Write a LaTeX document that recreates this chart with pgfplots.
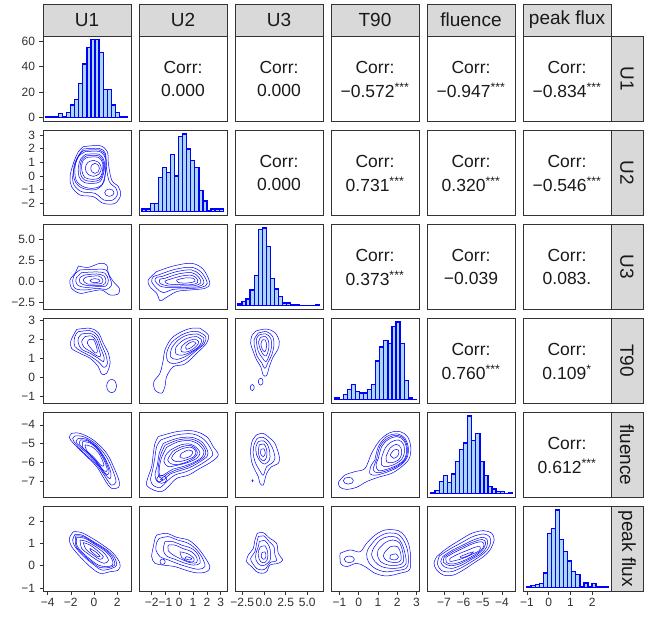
\documentclass[border=0pt]{standalone}
\usepackage{pgfplots}
\pgfplotsset{compat=1.18}
\usepackage{fontspec}
\setmainfont{Liberation Sans}
\definecolor{histfill}{HTML}{ADD8E6}
\definecolor{stripgray}{HTML}{D9D9D9}
\definecolor{bord}{HTML}{333333}
\definecolor{ticktxt}{HTML}{303030}
\pgfplotsset{
 panel/.style={scale only axis, width=88pt, height=85.5pt, anchor=north west,
   axis line style={draw=bord, line width=0.8pt}, xtick=\empty, ytick=\empty,
   tick align=outside, major tick length=3.5pt, tick style={draw=bord, line width=0.6pt},
   xtick pos=bottom, ytick pos=left,
   tick label style={font=\fontsize{12}{13}\selectfont, text=ticktxt},
   yticklabel style={xshift=-1pt}},
 cont/.style={draw=blue, line width=0.5pt, smooth, tension=0.55, mark=none},
 hist/.style={ybar interval, fill=histfill, draw=blue, line width=1.3pt, mark=none},
}
\tikzset{corrfont/.style={font=\fontsize{17.5}{20}\selectfont, text=black!90, inner sep=0pt},
  stripfont/.style={font=\fontsize{19}{21}\selectfont, text=black!90}}
\newcommand\rng[1]{\addplot[cont] coordinates {#1};}
\newcommand\corr[1]{\node[corrfont] at (rel axis cs:0.5,0.635) {Corr:};\node[corrfont] at (rel axis cs:0.5,0.365) {#1};}
\newcommand\st{\textsuperscript{***}}
\begin{document}
\begin{tikzpicture}[x=1pt,y=1pt]
\path[use as bounding box] (0,0) rectangle (648,616);
% ---------- strips ----------
\foreach \xl/\lab in {43/U1,139/U2,235/U3,331/T90,427/fluence,523/peak flux}{
  \draw[fill=stripgray, draw=bord, line width=0.8pt] (\xl,580) rectangle (\xl+88,612);
  \node[stripfont] at (\xl+44,596) {\lab};
}
\foreach \yt/\lab in {580/U1,486/U2,392/U3,298/T90,204/fluence,110/peak flux}{
  \draw[fill=stripgray, draw=bord, line width=0.8pt] (611,\yt-85.5) rectangle (643,\yt);
  \node[stripfont, rotate=-90] at (627,\yt-42.75) {\lab};
}
% ================= ROW 1 =================
\begin{axis}[panel, at={(43pt,580pt)}, xmin=-4.40, xmax=3.19, ymin=-3.0, ymax=63.9,
  ytick={0,20,40,60}, yticklabels={0,20,40,60}]
\addplot[hist] coordinates {(-4.140,1)(-3.788,1)(-3.435,1)(-3.083,3)(-2.730,1)(-2.378,4)(-2.025,10)(-1.673,14)(-1.320,27)(-0.968,42)(-0.615,55)(-0.263,61)(0.090,61)(0.443,51)(0.795,22)(1.148,22)(1.500,10)(1.853,4)(2.205,1)(2.558,1)(2.910,0)};
\end{axis}
\begin{axis}[panel, at={(139pt,580pt)}, xmin=0,xmax=1,ymin=0,ymax=1]\corr{0.000}\end{axis}
\begin{axis}[panel, at={(235pt,580pt)}, xmin=0,xmax=1,ymin=0,ymax=1]\corr{0.000}\end{axis}
\begin{axis}[panel, at={(331pt,580pt)}, xmin=0,xmax=1,ymin=0,ymax=1]\corr{−0.572\st}\end{axis}
\begin{axis}[panel, at={(427pt,580pt)}, xmin=0,xmax=1,ymin=0,ymax=1]\corr{−0.947\st}\end{axis}
\begin{axis}[panel, at={(523pt,580pt)}, xmin=0,xmax=1,ymin=0,ymax=1]\corr{−0.834\st}\end{axis}
% ================= ROW 2 =================
\begin{axis}[panel, at={(43pt,486pt)}, xmin=-4.40, xmax=3.19, ymin=-2.89, ymax=3.37,
  ytick={-2,-1,0,1,2,3}, yticklabels={−2,−1,0,1,2,3}]
\rng{(-0.92,2.15)(0.52,2.22)(1.15,1.78)(1.24,0.93)(1.52,-0.29)(2.10,-0.78)(2.30,-1.39)(1.81,-2.0)(0.80,-2.0)(-0.06,-1.51)(-1.21,-1.39)(-1.93,-0.78)(-2.07,-0.05)(-1.78,0.93)(-1.35,1.78)(-0.92,2.15)}
\rng{(-0.92,1.98)(0.46,2.02)(0.98,1.66)(1.03,0.80)(1.32,-0.41)(1.90,-0.90)(2.01,-1.39)(1.61,-1.76)(0.86,-1.76)(0.09,-1.27)(-1.06,-1.15)(-1.72,-0.66)(-1.84,-0.05)(-1.61,0.88)(-1.21,1.66)(-0.92,1.98)}
\rng{(1.72,-1.22)(1.60,-1.03)(1.32,-0.95)(1.04,-1.03)(0.92,-1.22)(1.04,-1.41)(1.32,-1.49)(1.60,-1.41)(1.72,-1.22)}
\rng{(-0.85,1.88)(0.49,1.90)(1.00,1.45)(1.00,0.50)(0.85,-0.45)(0.30,-0.95)(-0.50,-1.0)(-1.30,-0.75)(-1.72,-0.20)(-1.72,0.75)(-1.30,1.55)(-0.85,1.88)}
\rng{(-0.78,1.78)(0.52,1.78)(1.03,1.17)(0.98,0.20)(0.66,-0.66)(-0.06,-0.90)(-0.92,-0.78)(-1.55,-0.29)(-1.64,0.68)(-1.35,1.41)(-0.78,1.78)}
\rng{(-0.69,1.59)(0.46,1.59)(0.89,1.05)(0.83,0.20)(0.52,-0.41)(-0.11,-0.54)(-0.86,-0.46)(-1.29,-0.05)(-1.35,0.68)(-1.12,1.29)(-0.69,1.59)}
\rng{(-0.63,1.48)(0.42,1.48)(0.82,0.99)(0.76,0.20)(0.46,-0.29)(-0.14,-0.39)(-0.82,-0.29)(-1.16,0.13)(-1.20,0.74)(-1.02,1.23)(-0.63,1.48)}
\rng{(-0.57,1.37)(0.37,1.37)(0.75,0.93)(0.69,0.20)(0.40,-0.17)(-0.17,-0.24)(-0.78,-0.12)(-1.03,0.32)(-1.06,0.80)(-0.92,1.17)(-0.57,1.37)}
\rng{(-0.06,1.15)(0.43,0.98)(0.63,0.56)(0.43,0.15)(-0.06,-0.02)(-0.55,0.15)(-0.75,0.56)(-0.55,0.98)(-0.06,1.15)}
\rng{(0.46,0.56)(0.35,0.82)(0.09,0.93)(-0.17,0.82)(-0.28,0.56)(-0.17,0.30)(0.09,0.19)(0.35,0.30)(0.46,0.56)}
\end{axis}
\begin{axis}[panel, at={(139pt,486pt)}, xmin=-2.92, xmax=3.46, ymin=-11.7, ymax=244.7]
\addplot[hist] coordinates {(-2.700,8)(-2.406,8)(-2.111,25)(-1.817,25)(-1.522,102)(-1.228,133)(-0.933,117)(-0.639,172)(-0.344,107)(-0.050,225)(0.245,233)(0.540,188)(0.834,153)(1.129,132)(1.423,63)(1.718,32)(2.012,2)(2.307,8)(2.601,8)(2.896,8)(3.190,0)};
\end{axis}
\begin{axis}[panel, at={(235pt,486pt)}, xmin=0,xmax=1,ymin=0,ymax=1]\corr{0.000}\end{axis}
\begin{axis}[panel, at={(331pt,486pt)}, xmin=0,xmax=1,ymin=0,ymax=1]\corr{0.731\st}\end{axis}
\begin{axis}[panel, at={(427pt,486pt)}, xmin=0,xmax=1,ymin=0,ymax=1]\corr{0.320\st}\end{axis}
\begin{axis}[panel, at={(523pt,486pt)}, xmin=0,xmax=1,ymin=0,ymax=1]\corr{−0.546\st}\end{axis}
% ================= ROW 3 =================
\begin{axis}[panel, at={(43pt,392pt)}, xmin=-4.40, xmax=3.19, ymin=-3.36, ymax=6.82,
  ytick={-2.5,0,2.5,5}, yticklabels={−2.5,0.0,2.5,5.0}]
\rng{(-1.35,1.82)(-0.49,1.66)(0.52,2.14)(1.09,1.94)(1.24,0.95)(1.67,-0.04)(2.18,-0.83)(2.10,-1.50)(1.38,-1.63)(0.66,-1.04)(-0.34,-1.23)(-1.21,-1.43)(-1.93,-0.84)(-2.07,0.15)(-1.64,0.95)(-1.35,1.82)}
\rng{(-1.21,1.35)(0.23,1.43)(1.03,1.35)(1.38,0.35)(1.52,-0.44)(1.09,-0.96)(0.23,-0.84)(-0.78,-1.04)(-1.64,-0.84)(-1.84,0.07)(-1.64,0.87)(-1.21,1.35)}
\rng{(-1.06,1.03)(0.23,1.11)(0.95,0.95)(1.24,0.15)(1.03,-0.56)(0.23,-0.64)(-0.78,-0.72)(-1.44,-0.44)(-1.55,0.35)(-1.06,1.03)}
\rng{(-0.78,0.75)(0.23,0.87)(0.86,0.63)(1.03,0.04)(0.80,-0.44)(0.09,-0.48)(-0.69,-0.48)(-1.21,-0.16)(-1.21,0.43)(-0.78,0.75)}
\rng{(-0.49,0.55)(0.37,0.63)(0.75,0.23)(0.66,-0.24)(0.09,-0.32)(-0.57,-0.32)(-0.92,0.08)(-0.78,0.43)(-0.49,0.55)}
\rng{(0.52,0.07)(0.39,0.24)(0.09,0.31)(-0.21,0.24)(-0.34,0.07)(-0.21,-0.10)(0.09,-0.17)(0.39,-0.10)(0.52,0.07)}
\end{axis}
\begin{axis}[panel, at={(139pt,392pt)}, xmin=-2.92, xmax=3.46, ymin=-3.36, ymax=6.82]
\rng{(-1.64,1.15)(-0.43,1.82)(0.89,2.14)(1.74,1.42)(2.22,-0.24)(1.86,-0.84)(0.77,-1.04)(-0.19,-1.23)(-1.04,-2.03)(-1.40,-2.31)(-1.64,-1.43)(-2.13,-0.64)(-2.25,0.15)(-1.64,1.15)}
\rng{(-1.52,0.75)(-0.31,1.42)(0.89,1.66)(1.62,1.03)(2.03,-0.24)(1.62,-0.72)(0.65,-0.88)(-0.43,-0.96)(-1.16,-1.35)(-1.64,-0.84)(-2.00,-0.04)(-1.88,0.55)(-1.52,0.75)}
\rng{(-1.28,0.55)(-0.19,1.15)(0.89,1.35)(1.50,0.75)(1.79,-0.16)(1.38,-0.64)(0.41,-0.72)(-0.68,-0.76)(-1.40,-0.56)(-1.76,0.08)(-1.64,0.47)(-1.28,0.55)}
\rng{(-1.04,0.35)(-0.07,0.87)(0.89,1.03)(1.38,0.55)(1.57,-0.16)(1.14,-0.52)(0.17,-0.56)(-0.80,-0.56)(-1.40,-0.24)(-1.40,0.23)(-1.04,0.35)}
\rng{(-0.68,0.23)(0.17,0.63)(0.89,0.71)(1.26,0.35)(1.33,-0.16)(0.89,-0.40)(0.05,-0.40)(-0.80,-0.32)(-1.04,0.00)(-0.68,0.23)}
\rng{(-0.19,0.15)(0.41,0.39)(1.01,0.35)(1.14,0.00)(0.65,-0.20)(-0.07,-0.16)(-0.19,0.15)}
\end{axis}
\begin{axis}[panel, at={(235pt,392pt)}, xmin=-3.34, xmax=6.81, ymin=-11.75, ymax=246.75]
\addplot[hist] coordinates {(-3.000,5)(-2.531,12)(-2.062,20)(-1.593,47)(-1.124,92)(-0.655,230)(-0.186,235)(0.283,178)(0.752,83)(1.221,50)(1.690,28)(2.159,8)(2.628,8)(3.097,2)(3.566,4)(4.035,1)(4.504,1)(4.973,1)(5.442,1)(5.911,4)(6.380,0)};
\end{axis}
\begin{axis}[panel, at={(331pt,392pt)}, xmin=0,xmax=1,ymin=0,ymax=1]\corr{0.373\st}\end{axis}
\begin{axis}[panel, at={(427pt,392pt)}, xmin=0,xmax=1,ymin=0,ymax=1]\corr{−0.039}\end{axis}
\begin{axis}[panel, at={(523pt,392pt)}, xmin=0,xmax=1,ymin=0,ymax=1]\corr{0.083.}\end{axis}
% ================= ROW 4 =================
\begin{axis}[panel, at={(43pt,298pt)}, xmin=-4.40, xmax=3.19, ymin=-1.38, ymax=3.12,
  ytick={-1,0,1,2,3}, yticklabels={−1,0,1,2,3}]
\rng{(-1.49,2.52)(-0.34,2.58)(0.37,2.35)(0.80,1.79)(1.24,1.26)(1.38,0.73)(1.09,0.21)(0.66,0.17)(0.37,0.56)(-0.34,1.00)(-1.21,1.26)(-1.93,1.52)(-2.01,1.88)(-1.72,2.28)(-1.49,2.52)}
\rng{(-1.35,2.40)(-0.34,2.45)(0.29,2.22)(0.66,1.70)(1.03,1.17)(1.15,0.70)(0.86,0.52)(0.37,0.82)(-0.34,1.12)(-1.06,1.35)(-1.64,1.61)(-1.72,1.96)(-1.55,2.28)(-1.35,2.40)}
\rng{(-1.06,2.28)(-0.29,2.31)(0.23,2.08)(0.52,1.61)(0.86,1.08)(0.80,0.82)(0.37,1.00)(-0.34,1.26)(-1.06,1.47)(-1.35,1.79)(-1.35,2.08)(-1.06,2.28)}
\rng{(-0.78,2.14)(-0.20,2.17)(0.17,1.93)(0.40,1.52)(0.57,1.12)(0.29,1.12)(-0.29,1.35)(-0.86,1.58)(-1.06,1.88)(-0.78,2.14)}
\rng{(-0.49,1.96)(-0.06,2.00)(0.17,1.70)(0.29,1.35)(0.09,1.29)(-0.34,1.58)(-0.57,1.79)(-0.49,1.96)}
\rng{(1.95,-0.46)(1.82,-0.21)(1.52,-0.11)(1.22,-0.21)(1.09,-0.46)(1.22,-0.71)(1.52,-0.81)(1.82,-0.71)(1.95,-0.46)}
\end{axis}
\begin{axis}[panel, at={(139pt,298pt)}, xmin=-2.92, xmax=3.46, ymin=-1.38, ymax=3.12]
\rng{(1.50,2.58)(2.10,2.23)(1.98,1.79)(1.26,1.26)(0.41,0.70)(-0.43,0.56)(-0.92,0.03)(-1.04,-0.49)(-1.28,-0.84)(-1.76,-0.67)(-1.84,-0.23)(-1.40,0.21)(-1.16,0.91)(-1.04,1.44)(-0.56,2.05)(0.17,2.40)(0.89,2.58)(1.50,2.58)}
\rng{(1.38,2.40)(1.93,2.14)(1.79,1.75)(1.14,1.35)(0.41,0.91)(-0.31,0.73)(-0.80,0.82)(-0.92,1.26)(-0.56,1.82)(0.17,2.23)(0.82,2.40)(1.38,2.40)}
\rng{(1.30,2.28)(1.79,2.05)(1.62,1.70)(1.01,1.35)(0.41,1.08)(-0.19,0.94)(-0.63,1.08)(-0.56,1.52)(-0.07,1.96)(0.58,2.22)(1.30,2.28)}
\rng{(1.26,2.14)(1.62,1.96)(1.45,1.65)(0.89,1.35)(0.24,1.17)(-0.24,1.23)(-0.24,1.58)(0.24,1.93)(0.77,2.10)(1.26,2.14)}
\rng{(1.14,2.01)(1.42,1.87)(1.21,1.61)(0.65,1.35)(0.17,1.35)(0.17,1.61)(0.65,1.91)(1.14,2.01)}
\rng{(1.01,1.88)(1.21,1.79)(0.89,1.58)(0.53,1.47)(0.48,1.65)(0.77,1.82)(1.01,1.88)}
\end{axis}
\begin{axis}[panel, at={(235pt,298pt)}, xmin=-3.34, xmax=6.81, ymin=-1.38, ymax=3.12]
\rng{(-0.85,2.45)(0.31,2.54)(1.27,2.35)(1.77,1.88)(1.58,1.44)(1.08,1.09)(0.62,0.56)(0.31,0.09)(-0.08,0.12)(-0.38,0.56)(-0.85,0.91)(-1.23,1.35)(-1.54,1.79)(-1.35,2.23)(-0.85,2.45)}
\rng{(-0.65,2.33)(0.31,2.40)(1.00,2.15)(1.15,1.68)(0.88,1.15)(0.50,0.82)(0.12,0.47)(-0.27,0.77)(-0.77,1.09)(-1.04,1.53)(-1.15,1.96)(-0.65,2.33)}
\rng{(-0.54,2.23)(0.23,2.28)(0.77,2.05)(0.88,1.61)(0.62,1.17)(0.23,0.82)(-0.15,1.00)(-0.65,1.35)(-0.85,1.79)(-0.85,2.05)(-0.54,2.23)}
\rng{(-0.38,2.10)(0.19,2.14)(0.54,1.88)(0.54,1.47)(0.23,1.12)(-0.15,1.23)(-0.50,1.58)(-0.62,1.88)(-0.38,2.10)}
\rng{(-0.19,1.96)(0.15,1.96)(0.31,1.65)(0.12,1.35)(-0.19,1.47)(-0.35,1.75)(-0.19,1.96)}
\rng{(-0.11,-0.23)(-0.19,-0.10)(-0.38,-0.05)(-0.57,-0.10)(-0.65,-0.23)(-0.57,-0.36)(-0.38,-0.41)(-0.19,-0.36)(-0.11,-0.23)}
\rng{(-1.12,-0.54)(-1.19,-0.43)(-1.35,-0.38)(-1.51,-0.43)(-1.58,-0.54)(-1.51,-0.65)(-1.35,-0.70)(-1.19,-0.65)(-1.12,-0.54)}
\end{axis}
\begin{axis}[panel, at={(331pt,298pt)}, xmin=-1.44, xmax=3.13, ymin=-11.6, ymax=243.6]
\addplot[hist] coordinates {(-1.231,5)(-1.020,1)(-0.809,16)(-0.597,30)(-0.386,45)(-0.175,25)(0.036,20)(0.247,20)(0.459,30)(0.670,45)(0.881,115)(1.092,157)(1.303,177)(1.515,168)(1.726,218)(1.937,232)(2.148,168)(2.359,58)(2.571,5)(2.782,1)(2.993,0)};
\end{axis}
\begin{axis}[panel, at={(427pt,298pt)}, xmin=0,xmax=1,ymin=0,ymax=1]\corr{0.760\st}\end{axis}
\begin{axis}[panel, at={(523pt,298pt)}, xmin=0,xmax=1,ymin=0,ymax=1]\corr{0.109\textsuperscript{*}}\end{axis}
% ================= ROW 5 =================
\begin{axis}[panel, at={(43pt,204pt)}, xmin=-4.40, xmax=3.19, ymin=-7.84, ymax=-3.32,
  ytick={-7,-6,-5,-4}, yticklabels={−7,−6,−5,−4}]
\rng{(-1.93,-4.45)(-1.21,-4.45)(-0.06,-4.80)(1.09,-5.50)(1.81,-6.39)(2.18,-7.01)(2.10,-7.31)(1.52,-7.36)(1.03,-7.01)(0.23,-6.21)(-0.92,-5.50)(-1.78,-4.98)(-2.13,-4.66)(-1.93,-4.45)}
\rng{(-1.64,-4.59)(-0.92,-4.62)(0.09,-4.98)(1.03,-5.65)(1.61,-6.39)(1.90,-7.01)(1.52,-7.19)(1.15,-6.92)(0.37,-6.21)(-0.69,-5.59)(-1.55,-5.03)(-1.84,-4.73)(-1.64,-4.59)}
\rng{(-1.35,-4.71)(-0.63,-4.77)(0.23,-5.15)(0.95,-5.77)(1.44,-6.48)(1.38,-6.84)(0.95,-6.61)(0.37,-6.13)(-0.49,-5.59)(-1.21,-5.15)(-1.55,-4.89)(-1.35,-4.71)}
\rng{(-1.17,-4.80)(-0.52,-4.85)(0.28,-5.22)(0.91,-5.81)(1.30,-6.44)(1.12,-6.63)(0.62,-6.30)(-0.05,-5.78)(-0.74,-5.37)(-1.25,-5.02)(-1.17,-4.80)}
\rng{(-0.98,-4.89)(-0.40,-4.94)(0.32,-5.30)(0.86,-5.86)(1.15,-6.39)(0.86,-6.43)(0.29,-6.00)(-0.40,-5.54)(-0.98,-5.18)(-0.98,-4.89)}
\rng{(-0.78,-5.06)(-0.20,-5.15)(0.46,-5.54)(0.86,-6.13)(0.57,-6.13)(0.00,-5.72)(-0.63,-5.36)(-0.78,-5.06)}
\end{axis}
\begin{axis}[panel, at={(139pt,204pt)}, xmin=-2.92, xmax=3.46, ymin=-7.84, ymax=-3.32]
\rng{(-1.52,-4.62)(-0.19,-4.36)(1.01,-4.32)(1.98,-4.62)(2.46,-5.15)(2.83,-5.59)(2.34,-5.95)(1.50,-6.30)(0.65,-6.66)(-0.19,-6.83)(-0.80,-7.27)(-1.28,-7.53)(-1.88,-7.44)(-2.37,-7.18)(-2.25,-6.74)(-2.00,-6.20)(-1.88,-5.50)(-1.76,-4.98)(-1.52,-4.62)}
\rng{(-1.35,-4.80)(-0.19,-4.53)(0.97,-4.48)(1.79,-4.77)(2.27,-5.24)(2.42,-5.59)(1.98,-5.89)(1.26,-6.21)(0.48,-6.48)(-0.31,-6.65)(-0.92,-7.00)(-1.35,-7.30)(-1.84,-7.23)(-2.08,-6.92)(-1.93,-6.39)(-1.76,-5.68)(-1.64,-5.15)(-1.35,-4.80)}
\rng{(-1.16,-4.98)(-0.14,-4.71)(0.89,-4.66)(1.62,-4.89)(2.03,-5.33)(2.03,-5.65)(1.50,-5.95)(0.77,-6.25)(0.00,-6.43)(-0.68,-6.61)(-1.16,-6.92)(-1.59,-7.00)(-1.76,-6.65)(-1.59,-6.12)(-1.45,-5.50)(-1.16,-4.98)}
\rng{(-1.04,-5.08)(-0.10,-4.80)(0.85,-4.75)(1.53,-4.97)(1.91,-5.37)(1.82,-5.68)(1.25,-5.97)(0.50,-6.23)(-0.24,-6.39)(-0.86,-6.60)(-1.28,-6.82)(-1.52,-6.65)(-1.52,-6.21)(-1.36,-5.61)(-1.04,-5.08)}
\rng{(-0.92,-5.19)(-0.07,-4.89)(0.82,-4.84)(1.45,-5.06)(1.79,-5.42)(1.62,-5.72)(1.01,-6.00)(0.24,-6.21)(-0.48,-6.35)(-1.04,-6.60)(-1.40,-6.71)(-1.45,-6.30)(-1.28,-5.72)(-0.92,-5.19)}
\rng{(-0.63,-5.33)(0.10,-5.06)(0.82,-5.02)(1.30,-5.24)(1.50,-5.50)(1.26,-5.77)(0.58,-6.00)(-0.19,-6.14)(-0.80,-6.21)(-1.11,-5.95)(-0.97,-5.59)(-0.63,-5.33)}
\rng{(-0.47,-5.40)(0.20,-5.15)(0.85,-5.10)(1.25,-5.33)(1.28,-5.59)(0.92,-5.82)(0.20,-6.05)(-0.50,-6.08)(-0.84,-5.86)(-0.47,-5.40)}
\rng{(-0.31,-5.47)(0.29,-5.24)(0.89,-5.19)(1.21,-5.42)(1.06,-5.68)(0.48,-5.86)(-0.19,-5.95)(-0.56,-5.77)(-0.31,-5.47)}
\rng{(0.17,-5.50)(0.65,-5.33)(0.97,-5.42)(0.82,-5.65)(0.34,-5.77)(0.05,-5.68)(0.17,-5.50)}
\rng{(-0.92,-6.88)(-1.03,-6.73)(-1.28,-6.67)(-1.53,-6.73)(-1.64,-6.88)(-1.53,-7.03)(-1.28,-7.09)(-1.03,-7.03)(-0.92,-6.88)}
\rng{(-1.20,-6.88)(-1.28,-6.83)(-1.36,-6.88)(-1.28,-6.93)(-1.20,-6.88)}
\end{axis}
\begin{axis}[panel, at={(235pt,204pt)}, xmin=-3.34, xmax=6.81, ymin=-7.84, ymax=-3.32]
\rng{(-0.85,-4.53)(-0.08,-4.45)(0.69,-4.71)(1.27,-4.98)(1.77,-5.68)(1.65,-6.04)(0.88,-6.21)(0.31,-6.57)(-0.08,-7.18)(-0.46,-7.09)(-0.65,-6.74)(-1.04,-6.39)(-1.42,-5.95)(-1.54,-5.33)(-1.31,-4.80)(-0.85,-4.53)}
\rng{(-0.77,-4.71)(-0.08,-4.66)(0.54,-4.89)(1.00,-5.24)(1.27,-5.77)(0.88,-6.04)(0.31,-6.21)(-0.08,-6.66)(-0.46,-6.43)(-0.92,-6.07)(-1.23,-5.59)(-1.15,-5.06)(-0.77,-4.71)}
\rng{(-0.65,-4.89)(-0.08,-4.84)(0.42,-5.06)(0.69,-5.50)(0.62,-5.86)(0.12,-6.07)(-0.38,-5.95)(-0.85,-5.59)(-0.92,-5.15)(-0.65,-4.89)}
\rng{(-0.54,-5.06)(0.00,-5.02)(0.31,-5.30)(0.31,-5.68)(0.00,-5.90)(-0.46,-5.77)(-0.65,-5.42)(-0.54,-5.06)}
\rng{(-0.35,-5.30)(0.00,-5.27)(0.15,-5.50)(-0.08,-5.68)(-0.38,-5.54)(-0.35,-5.30)}
\rng{(-1.23,-6.95)(-1.31,-6.90)(-1.39,-6.95)(-1.31,-7.00)(-1.23,-6.95)}
\end{axis}
\begin{axis}[panel, at={(331pt,204pt)}, xmin=-1.44, xmax=3.13, ymin=-7.84, ymax=-3.32]
\rng{(-0.97,-6.92)(-0.71,-6.65)(-0.19,-6.47)(0.33,-6.30)(0.67,-5.50)(1.11,-4.80)(1.63,-4.41)(2.15,-4.36)(2.53,-4.62)(2.70,-5.15)(2.63,-5.77)(2.23,-6.21)(1.71,-6.56)(1.02,-6.77)(0.41,-7.00)(-0.11,-7.30)(-0.63,-7.41)(-0.97,-7.30)(-1.06,-7.06)(-0.97,-6.92)}
\rng{(-0.28,-6.95)(-0.36,-6.82)(-0.54,-6.77)(-0.72,-6.82)(-0.80,-6.95)(-0.72,-7.08)(-0.54,-7.13)(-0.36,-7.08)(-0.28,-6.95)}
\rng{(0.84,-5.86)(1.02,-5.15)(1.45,-4.62)(2.01,-4.48)(2.40,-4.71)(2.58,-5.24)(2.49,-5.77)(2.11,-6.18)(1.54,-6.47)(0.94,-6.65)(0.59,-6.60)(0.62,-6.21)(0.84,-5.86)}
\rng{(0.93,-5.82)(1.10,-5.15)(1.50,-4.70)(2.01,-4.55)(2.38,-4.78)(2.53,-5.28)(2.43,-5.80)(2.06,-6.15)(1.50,-6.41)(0.98,-6.53)(0.75,-6.36)(0.93,-5.82)}
\rng{(1.02,-5.77)(1.19,-5.15)(1.54,-4.77)(2.01,-4.62)(2.35,-4.84)(2.49,-5.33)(2.37,-5.82)(2.01,-6.12)(1.45,-6.35)(1.02,-6.42)(0.90,-6.12)(1.02,-5.77)}
\rng{(1.19,-5.72)(1.37,-5.24)(1.66,-4.92)(2.06,-4.80)(2.32,-5.02)(2.37,-5.47)(2.23,-5.82)(1.89,-6.07)(1.45,-6.21)(1.19,-6.12)(1.19,-5.72)}
\rng{(1.42,-5.68)(1.62,-5.24)(1.94,-5.03)(2.18,-5.19)(2.23,-5.54)(2.06,-5.86)(1.71,-6.00)(1.45,-5.95)(1.42,-5.68)}
\rng{(1.63,-5.59)(1.83,-5.33)(2.06,-5.33)(2.06,-5.59)(1.83,-5.77)(1.63,-5.59)}
\end{axis}
\begin{axis}[panel, at={(427pt,204pt)}, xmin=-7.88, xmax=-3.33, ymin=-11.7, ymax=245.7]
\addplot[hist] coordinates {(-7.671,2)(-7.461,10)(-7.250,37)(-7.040,54)(-6.830,34)(-6.620,59)(-6.409,97)(-6.199,132)(-5.989,152)(-5.778,234)(-5.568,160)(-5.358,180)(-5.147,97)(-4.937,54)(-4.727,22)(-4.517,14)(-4.306,7)(-4.096,7)(-3.886,1)(-3.675,2)(-3.465,0)};
\end{axis}
\begin{axis}[panel, at={(523pt,204pt)}, xmin=0,xmax=1,ymin=0,ymax=1]\corr{0.612\st}\end{axis}
% ================= ROW 6 =================
\begin{axis}[panel, at={(43pt,110pt)}, xmin=-4.40, xmax=3.19, ymin=-1.16, ymax=2.69,
  ytick={-1,0,1,2}, yticklabels={−1,0,1,2}, xtick={-4,-2,0,2}, xticklabels={−4,−2,0,2}]
\rng{(-1.78,1.53)(-1.06,1.49)(0.09,1.16)(0.95,0.86)(1.67,0.56)(2.24,0.11)(2.10,-0.19)(1.38,-0.27)(0.52,-0.34)(-0.34,-0.04)(-1.21,0.41)(-1.93,0.86)(-2.13,1.23)(-1.78,1.53)}
\rng{(-1.64,1.41)(-0.98,1.37)(0.09,1.04)(1.03,0.74)(1.72,0.41)(1.95,0.03)(1.52,-0.12)(0.66,-0.19)(-0.11,0.08)(-0.92,0.44)(-1.64,0.86)(-1.84,1.16)(-1.64,1.41)}
\rng{(-1.57,1.35)(-0.88,1.30)(0.13,0.99)(1.03,0.69)(1.62,0.37)(1.78,0.03)(1.28,-0.08)(0.52,-0.08)(-0.22,0.18)(-0.99,0.53)(-1.57,0.90)(-1.57,1.35)}
\rng{(-1.49,1.28)(-0.78,1.23)(0.17,0.93)(1.03,0.63)(1.52,0.33)(1.61,0.03)(1.03,-0.04)(0.37,0.03)(-0.34,0.29)(-1.06,0.63)(-1.49,0.93)(-1.49,1.28)}
\rng{(-1.21,1.16)(-0.57,1.08)(0.23,0.83)(0.95,0.53)(1.24,0.23)(0.86,0.11)(0.23,0.26)(-0.49,0.53)(-1.06,0.78)(-1.21,1.16)}
\rng{(-0.92,1.04)(-0.34,0.93)(0.29,0.68)(0.80,0.41)(0.52,0.29)(-0.06,0.48)(-0.69,0.74)(-0.92,1.04)}
\rng{(-0.34,0.78)(0.23,0.59)(0.52,0.41)(0.23,0.44)(-0.29,0.68)(-0.34,0.78)}
\end{axis}
\begin{axis}[panel, at={(139pt,110pt)}, xmin=-2.92, xmax=3.46, ymin=-1.16, ymax=2.69,
  xtick={-2,-1,0,1,2,3}, xticklabels={−2,−1,0,1,2,3}]
\rng{(-1.64,1.38)(-0.92,1.46)(-0.19,1.28)(0.65,1.16)(1.26,0.86)(1.79,0.44)(2.22,-0.04)(1.98,-0.27)(1.26,-0.32)(0.41,-0.19)(-0.31,-0.04)(-1.16,0.03)(-1.76,0.11)(-2.00,0.41)(-1.88,0.86)(-1.76,1.23)(-1.64,1.38)}
\rng{(-1.02,0.18)(-1.08,0.27)(-1.21,0.30)(-1.34,0.27)(-1.40,0.18)(-1.34,0.09)(-1.21,0.06)(-1.08,0.09)(-1.02,0.18)}
\rng{(-1.45,1.23)(-0.80,1.31)(-0.14,1.16)(0.65,1.01)(1.26,0.71)(1.69,0.33)(1.86,-0.04)(1.38,-0.16)(0.53,-0.04)(-0.19,0.11)(-0.80,0.26)(-1.40,0.41)(-1.69,0.71)(-1.64,1.04)(-1.45,1.23)}
\rng{(-1.04,1.08)(-0.43,1.08)(0.17,0.93)(0.89,0.78)(1.38,0.48)(1.50,0.11)(1.01,0.03)(0.29,0.14)(-0.31,0.29)(-0.92,0.44)(-1.16,0.71)(-1.04,1.08)}
\rng{(-0.80,0.93)(-0.31,0.93)(0.24,0.78)(0.89,0.63)(1.26,0.38)(1.26,0.14)(0.77,0.14)(0.17,0.29)(-0.43,0.48)(-0.80,0.68)(-0.80,0.93)}
\rng{(0.05,0.63)(0.65,0.53)(1.06,0.33)(1.01,0.18)(0.58,0.21)(0.17,0.38)(0.05,0.63)}
\rng{(0.53,0.41)(0.89,0.33)(0.77,0.26)(0.41,0.32)(0.53,0.41)}
\end{axis}
\begin{axis}[panel, at={(235pt,110pt)}, xmin=-3.34, xmax=6.81, ymin=-1.16, ymax=2.69,
  xtick={-2.5,0,2.5,5}, xticklabels={−2.5,0.0,2.5,5.0}]
\rng{(-0.77,1.46)(-0.08,1.49)(0.69,1.23)(1.46,1.01)(1.65,0.56)(2.15,0.26)(1.65,0.11)(0.69,0.03)(0.31,-0.27)(-0.27,-0.34)(-0.85,-0.27)(-1.42,-0.04)(-2.00,0.18)(-1.81,0.48)(-1.23,0.78)(-1.04,1.16)(-0.77,1.46)}
\rng{(-0.65,1.31)(0.00,1.34)(0.62,1.08)(1.15,0.86)(1.27,0.48)(1.46,0.23)(0.69,0.14)(0.23,-0.12)(-0.27,-0.19)(-0.85,-0.12)(-1.31,0.11)(-1.54,0.33)(-1.04,0.63)(-0.85,1.01)(-0.65,1.31)}
\rng{(-0.54,1.08)(0.12,1.13)(0.62,0.86)(0.77,0.48)(0.69,0.23)(0.12,0.03)(-0.46,0.03)(-0.92,0.26)(-0.92,0.56)(-0.65,0.86)(-0.54,1.08)}
\rng{(-0.38,0.86)(0.12,0.89)(0.42,0.63)(0.42,0.33)(0.12,0.15)(-0.38,0.18)(-0.65,0.44)(-0.62,0.68)(-0.38,0.86)}
\rng{(-0.23,0.59)(0.12,0.62)(0.23,0.41)(0.00,0.29)(-0.31,0.38)(-0.23,0.59)}
\end{axis}
\begin{axis}[panel, at={(331pt,110pt)}, xmin=-1.44, xmax=3.13, ymin=-1.16, ymax=2.69,
  xtick={-1,0,1,2,3}, xticklabels={−1,0,1,2,3}]
\rng{(-0.97,0.56)(-0.45,0.71)(0.07,0.63)(0.41,1.01)(0.85,1.38)(1.37,1.61)(2.06,1.58)(2.41,1.31)(2.63,0.86)(2.70,0.26)(2.63,-0.19)(2.14,-0.34)(1.45,-0.46)(0.85,-0.34)(0.33,-0.04)(-0.11,0.11)(-0.63,-0.04)(-0.94,0.11)(-0.97,0.56)}
\rng{(-0.23,0.29)(-0.31,0.40)(-0.49,0.44)(-0.67,0.40)(-0.75,0.29)(-0.67,0.18)(-0.49,0.14)(-0.31,0.18)(-0.23,0.29)}
\rng{(0.50,0.78)(0.93,1.23)(1.45,1.46)(2.01,1.43)(2.32,1.16)(2.53,0.71)(2.58,0.18)(2.46,-0.12)(1.97,-0.22)(1.37,-0.27)(0.85,-0.12)(0.50,0.18)(0.41,0.53)(0.50,0.78)}
\rng{(0.76,0.78)(1.11,1.16)(1.54,1.31)(1.97,1.28)(2.23,1.01)(2.40,0.56)(2.46,0.11)(2.23,-0.07)(1.71,-0.12)(1.19,-0.04)(0.85,0.18)(0.67,0.48)(0.76,0.78)}
\rng{(1.02,0.74)(1.37,1.04)(1.76,1.16)(2.11,1.04)(2.28,0.63)(2.32,0.18)(2.06,0.03)(1.54,0.03)(1.14,0.18)(0.97,0.48)(1.02,0.74)}
\rng{(1.37,0.63)(1.66,0.86)(2.01,0.86)(2.18,0.56)(2.18,0.23)(1.88,0.14)(1.45,0.23)(1.28,0.44)(1.37,0.63)}
\rng{(1.66,0.48)(1.94,0.53)(2.06,0.38)(1.89,0.26)(1.62,0.32)(1.66,0.48)}
\end{axis}
\begin{axis}[panel, at={(427pt,110pt)}, xmin=-7.88, xmax=-3.33, ymin=-1.16, ymax=2.69,
  xtick={-7,-6,-5,-4}, xticklabels={−7,−6,−5,−4}]
\rng{(-7.38,0.41)(-6.86,0.78)(-6.17,1.16)(-5.57,1.46)(-4.96,1.58)(-4.53,1.46)(-4.41,1.16)(-4.62,0.71)(-4.96,0.41)(-5.48,0.11)(-6.00,-0.19)(-6.52,-0.42)(-7.03,-0.42)(-7.38,-0.19)(-7.52,0.11)(-7.38,0.41)}
\rng{(-7.24,0.44)(-6.72,0.74)(-6.09,1.04)(-5.52,1.31)(-4.96,1.43)(-4.65,1.31)(-4.59,1.04)(-4.79,0.68)(-5.17,0.41)(-5.65,0.14)(-6.17,-0.12)(-6.65,-0.27)(-7.12,-0.22)(-7.34,0.08)(-7.24,0.44)}
\rng{(-7.07,0.41)(-6.60,0.68)(-6.03,0.93)(-5.48,1.16)(-5.00,1.28)(-4.76,1.16)(-4.79,0.86)(-5.05,0.56)(-5.57,0.29)(-6.09,0.03)(-6.60,-0.12)(-7.00,-0.04)(-7.17,0.18)(-7.07,0.41)}
\rng{(-6.98,0.40)(-6.54,0.64)(-6.00,0.87)(-5.46,1.08)(-5.02,1.18)(-4.85,1.05)(-4.95,0.77)(-5.28,0.50)(-5.80,0.25)(-6.30,0.05)(-6.73,0.01)(-7.03,0.16)(-6.98,0.40)}
\rng{(-6.90,0.38)(-6.48,0.59)(-5.97,0.81)(-5.45,1.01)(-5.05,1.08)(-4.93,0.93)(-5.10,0.68)(-5.52,0.44)(-6.03,0.21)(-6.52,0.08)(-6.86,0.14)(-6.90,0.38)}
\rng{(-6.69,0.33)(-6.31,0.51)(-5.83,0.68)(-5.40,0.83)(-5.14,0.86)(-5.17,0.68)(-5.52,0.53)(-5.97,0.35)(-6.43,0.23)(-6.69,0.20)(-6.69,0.33)}
\rng{(-6.17,0.41)(-5.74,0.56)(-5.48,0.62)(-5.69,0.48)(-6.09,0.35)(-6.17,0.41)}
\end{axis}
\begin{axis}[panel, at={(523pt,110pt)}, xmin=-1.18, xmax=2.86, ymin=-11.7, ymax=245.7,
  xtick={-1,0,1,2}, xticklabels={−1,0,1,2}]
\addplot[hist] coordinates {(-0.995,4)(-0.809,7)(-0.622,10)(-0.436,12)(-0.249,44)(-0.063,162)(0.124,177)(0.310,234)(0.497,144)(0.684,109)(0.870,80)(1.057,49)(1.243,39)(1.430,4)(1.616,14)(1.803,4)(1.989,12)(2.176,2)(2.362,2)(2.549,2)(2.735,0)};
\end{axis}
\end{tikzpicture}
\end{document}
